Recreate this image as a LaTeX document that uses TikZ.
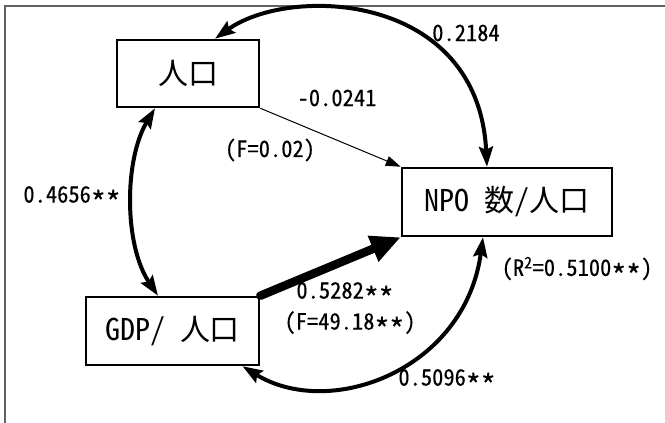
\documentclass[tikz,border=0pt]{standalone}
\usepackage{fontspec}
\usepackage{graphicx}
\usepackage{tikz}
\usetikzlibrary{arrows.meta}
\newfontfamily\boxfont[CharacterWidth=Half]{Noto Sans CJK JP}
\newfontfamily\numfont[CharacterWidth=Half,FakeBold=0.2]{Noto Sans CJK JP}
\newcommand{\sigstar}{\makebox[0.66em]{\raisebox{-0.5em}{\scalebox{1.35}{*}}}}
\tikzset{
	boxstyle/.style={rectangle,draw=black,line width=2.5pt,fill=white,inner sep=0pt,font=\boxfont\fontsize{30}{30}\selectfont},
	numstyle/.style={inner sep=0pt,font=\numfont\fontsize{22.5}{24}\selectfont},
	thinarrow/.style={line width=1pt,-{Triangle[length=15pt,width=10pt]}},
	thickarrow/.style={line width=8.5pt,line cap=round,-{Triangle[length=30pt,width=26pt]}},
	arcarrow/.style={line width=4pt,{Stealth[length=20pt,width=14pt,inset=3pt]}-{Stealth[length=20pt,width=14pt,inset=3pt]}},
	framestyle/.style={draw=black!62,line width=2pt}
}
\begin{document}
\begin{tikzpicture}[x=1pt,y=1pt]
	\useasboundingbox (0,0) rectangle (665,-423);
	\draw[framestyle] (5,-423)--(5,-6)--(665,-6);
	% variables
	\node[boxstyle,minimum width=142,minimum height=67] (pop) at (188,-73.5) {人口};
	\node[boxstyle,minimum width=210,minimum height=68] (npo) at (507,-202) {NPO　数/人口};
	\node[boxstyle,minimum width=173,minimum height=68] (gdp) at (172.5,-331) {GDP/　人口};
	% paths
	\draw[thinarrow] (pop.south east)--(npo.north west);
	\draw[thickarrow] (gdp.north east)--(npo.south west);
	\draw[arcarrow] ([xshift=27]pop.north) .. controls (290,15) and (478,8) .. ([xshift=-20]npo.north);
	\draw[arcarrow] ([xshift=-33]pop.south) .. controls (124,-160) and (124,-245) .. ([xshift=-14.5]gdp.north);
	\draw[arcarrow] ([xshift=70]gdp.south) .. controls (330,-420) and (465,-370) .. ([xshift=-24]npo.south);
	% coefficients
	\node[numstyle] (c1) at (466,-33) {0.2184};
	\node[numstyle] (c2) at (337,-98) {-0.0241};
	\node[numstyle] (f2) at (270,-150) {(F=0.02)};
	\node[numstyle] (c3) at (72,-200) {0.4656\sigstar\sigstar};
	\node[numstyle] (c4) at (345,-296) {0.5282\sigstar\sigstar};
	\node[numstyle] (f4) at (350,-326) {(F=49.18\sigstar\sigstar)};
	\node[numstyle] (r2) at (577,-272) {(R\textsuperscript{2}=0.5100\sigstar\sigstar)};
	\node[numstyle] (c5) at (447,-383) {0.5096\sigstar\sigstar};
\end{tikzpicture}
\end{document}
